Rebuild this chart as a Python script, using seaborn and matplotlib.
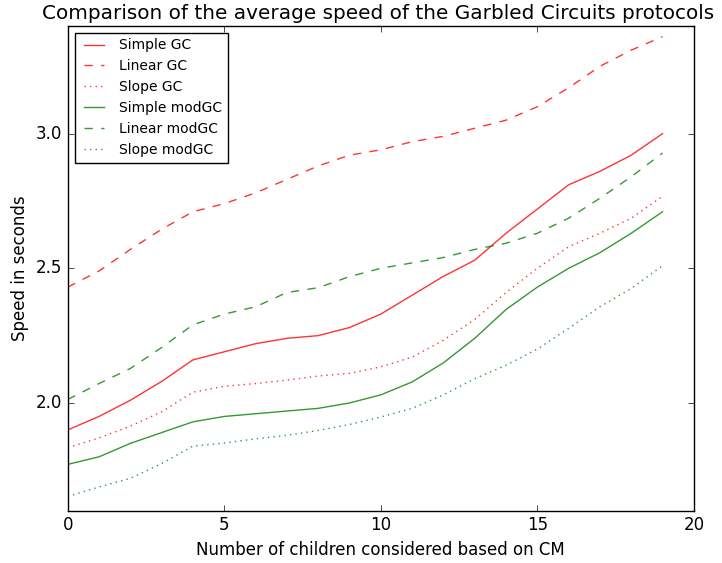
import matplotlib
matplotlib.use("Agg")
import matplotlib.pyplot as plt
import seaborn as sns
import numpy as np
import pandas as pd

x = list(range(20))
simple_gc = [1.90, 1.95, 2.01, 2.08, 2.16, 2.19, 2.22, 2.24, 2.25, 2.28,
             2.33, 2.40, 2.47, 2.53, 2.63, 2.72, 2.81, 2.86, 2.92, 3.00]
linear_gc = [2.43, 2.49, 2.57, 2.645, 2.71, 2.74, 2.78, 2.83, 2.88, 2.92,
             2.94, 2.97, 2.99, 3.02, 3.05, 3.10, 3.17, 3.25, 3.31, 3.36]
slope_gc = [1.834, 1.87, 1.914, 1.967, 2.04, 2.062, 2.072, 2.085, 2.10, 2.11,
            2.134, 2.17, 2.233, 2.31, 2.41, 2.50, 2.58, 2.63, 2.686, 2.767]
simple_mod = [1.772, 1.80, 1.85, 1.89, 1.93, 1.95, 1.96, 1.97, 1.98, 2.00,
              2.03, 2.078, 2.149, 2.24, 2.347, 2.43, 2.50, 2.558, 2.63, 2.71]
linear_mod = [2.013, 2.072, 2.128, 2.206, 2.29, 2.33, 2.357, 2.41, 2.428, 2.469,
              2.50, 2.52, 2.54, 2.57, 2.593, 2.63, 2.686, 2.76, 2.84, 2.928]
slope_mod = [1.653, 1.688, 1.72, 1.775, 1.84, 1.851, 1.867, 1.88, 1.898, 1.92,
             1.948, 1.98, 2.03, 2.09, 2.14, 2.20, 2.277, 2.357, 2.425, 2.51]

series = [
    ("Simple GC", simple_gc, "r", "-"),
    ("Linear GC", linear_gc, "r", "--"),
    ("Slope GC", slope_gc, "r", ":"),
    ("Simple modGC", simple_mod, "g", "-"),
    ("Linear modGC", linear_mod, "g", "--"),
    ("Slope modGC", slope_mod, "g", ":"),
]

plt.style.use("classic")
fig = plt.figure(figsize=(7.22, 5.63), dpi=100, facecolor="white")
ax = fig.add_axes([0.0938, 0.0929, 0.8672, 0.8611])

for name, vals, col, ls in series:
    sns.lineplot(x=x, y=vals, ax=ax, color=col, linestyle=ls, label=name,
                 alpha=0.8, linewidth=1.0)

ax.set_xlim(0, 20)
ax.set_ylim(1.6, 3.4)
ax.set_xticks([0, 5, 10, 15, 20])
ax.set_yticks([2.0, 2.5, 3.0])
ax.tick_params(labelsize=12)
ax.set_xlabel("Number of children considered based on CM", fontsize=12)
ax.set_ylabel("Speed in seconds", fontsize=12)
ax.set_title("Comparison of the average speed of the Garbled Circuits protocols",
             fontsize=14.4, x=0.496)
leg = ax.legend(loc="upper left", fontsize=10)

fig.savefig("out.png", dpi=100, facecolor="white")
